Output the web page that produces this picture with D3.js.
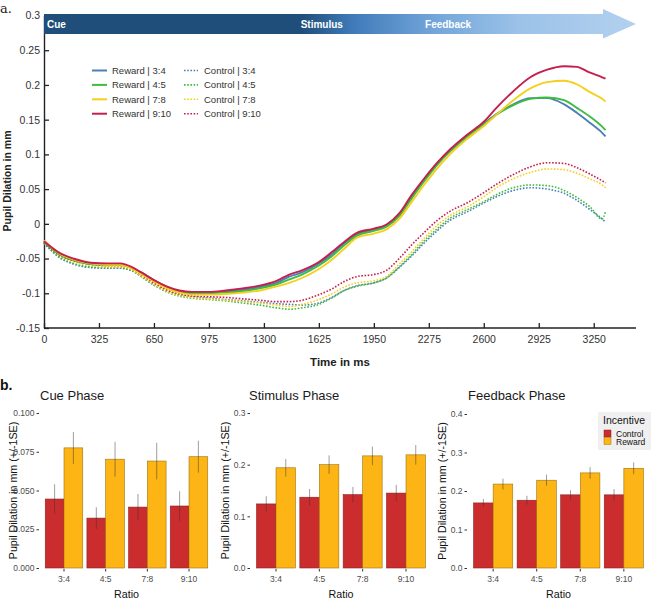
<!DOCTYPE html>
<html><head><meta charset="utf-8">
<script src="https://cdn.jsdelivr.net/npm/d3@7/dist/d3.min.js"></script>
<style>body{margin:0;background:#fff;} svg{display:block;font-family:"Liberation Sans",Arial,sans-serif;}</style>
</head><body>
<svg id="c" width="651" height="600"></svg>
<script>
// ---------- Panel a data ----------
const times = [0,100,175,275,375,450,525,575,650,725,800,875,975,1075,1175,1275,1375,1450,1525,1625,1700,1775,1850,1950,2025,2100,2175,2250,2325,2400,2500,2600,2675,2775,2875,2975,3075,3150,3225,3300,3320];
const reward34 = [-0.026,-0.045,-0.052,-0.058,-0.059,-0.059,-0.064,-0.070,-0.081,-0.091,-0.097,-0.099,-0.099,-0.098,-0.095,-0.091,-0.085,-0.076,-0.070,-0.057,-0.044,-0.028,-0.015,-0.008,-0.002,0.013,0.039,0.064,0.087,0.105,0.126,0.144,0.158,0.172,0.181,0.181,0.172,0.160,0.146,0.131,0.126];
const reward45 = [-0.025,-0.045,-0.052,-0.058,-0.059,-0.059,-0.064,-0.071,-0.082,-0.092,-0.098,-0.100,-0.100,-0.099,-0.097,-0.093,-0.087,-0.080,-0.073,-0.060,-0.047,-0.031,-0.017,-0.010,-0.004,0.011,0.037,0.062,0.085,0.104,0.125,0.143,0.157,0.171,0.180,0.182,0.178,0.167,0.155,0.140,0.135];
const reward78 = [-0.024,-0.044,-0.051,-0.057,-0.059,-0.059,-0.065,-0.072,-0.083,-0.093,-0.099,-0.102,-0.102,-0.101,-0.099,-0.096,-0.090,-0.085,-0.078,-0.065,-0.052,-0.036,-0.020,-0.014,-0.008,0.007,0.032,0.057,0.080,0.100,0.122,0.141,0.157,0.178,0.195,0.204,0.206,0.201,0.190,0.180,0.176];
const reward910 = [-0.025,-0.043,-0.050,-0.056,-0.057,-0.057,-0.063,-0.070,-0.081,-0.090,-0.096,-0.098,-0.098,-0.096,-0.093,-0.089,-0.082,-0.073,-0.067,-0.055,-0.041,-0.026,-0.013,-0.007,-0.001,0.015,0.042,0.066,0.088,0.107,0.128,0.147,0.167,0.191,0.211,0.222,0.227,0.226,0.218,0.211,0.209];
const control34 = [-0.028,-0.050,-0.058,-0.063,-0.064,-0.064,-0.068,-0.076,-0.088,-0.097,-0.103,-0.105,-0.107,-0.109,-0.111,-0.113,-0.115,-0.116,-0.117,-0.114,-0.106,-0.096,-0.089,-0.085,-0.078,-0.063,-0.046,-0.027,-0.010,0.005,0.017,0.030,0.039,0.048,0.052,0.050,0.044,0.034,0.021,0.007,0.002];
const control45 = [-0.028,-0.049,-0.057,-0.062,-0.063,-0.063,-0.068,-0.076,-0.088,-0.098,-0.104,-0.107,-0.109,-0.111,-0.114,-0.117,-0.121,-0.123,-0.121,-0.116,-0.107,-0.096,-0.090,-0.085,-0.078,-0.062,-0.044,-0.024,-0.007,0.008,0.020,0.032,0.042,0.052,0.056,0.055,0.048,0.038,0.025,0.007,0.018];
const control78 = [-0.026,-0.047,-0.055,-0.060,-0.062,-0.062,-0.067,-0.075,-0.087,-0.097,-0.103,-0.106,-0.108,-0.110,-0.112,-0.114,-0.117,-0.119,-0.116,-0.109,-0.101,-0.091,-0.085,-0.082,-0.076,-0.058,-0.040,-0.020,-0.002,0.012,0.024,0.039,0.052,0.065,0.074,0.079,0.078,0.073,0.065,0.056,0.052];
const control910 = [-0.027,-0.046,-0.053,-0.058,-0.060,-0.060,-0.065,-0.073,-0.085,-0.095,-0.101,-0.104,-0.105,-0.106,-0.108,-0.110,-0.112,-0.112,-0.110,-0.102,-0.094,-0.083,-0.076,-0.073,-0.067,-0.050,-0.030,-0.012,0.005,0.018,0.030,0.045,0.057,0.071,0.082,0.088,0.087,0.081,0.072,0.062,0.059];
const xTicks = [0,325,650,975,1300,1625,1950,2275,2600,2925,3250];
const yTicks = [-0.15,-0.1,-0.05,0,0.05,0.1,0.15,0.2,0.25,0.3];
const yTickLabels = ["-0.15","-0.1","-0.05","0","0.05","0.1","0.15","0.2","0.25","0.3"];
const phaseLabels = ["Cue","Stimulus","Feedback"];
const phaseStarts = [0,1500,2235];

// ---------- Panel b data ----------
const ratios = ["3:4","4:5","7:8","9:10"];
const cueControl = [0.0445,0.0322,0.0393,0.0400];
const cueControlSE = [0.0095,0.0070,0.0085,0.0095];
const cueReward = [0.0775,0.0702,0.0690,0.0718];
const cueRewardSE = [0.0103,0.0112,0.0118,0.0103];
const stimControl = [0.124,0.137,0.142,0.145];
const stimControlSE = [0.015,0.016,0.015,0.016];
const stimReward = [0.194,0.200,0.217,0.219];
const stimRewardSE = [0.017,0.018,0.018,0.019];
const fbControl = [0.169,0.176,0.190,0.190];
const fbControlSE = [0.0105,0.0115,0.0120,0.0150];
const fbReward = [0.218,0.228,0.247,0.259];
const fbRewardSE = [0.0140,0.0145,0.0150,0.0155];
const cueTicks = [0,0.025,0.05,0.075,0.1];
const cueTickLabels = ["0.000","0.025","0.050","0.075","0.100"];
const stimTicks = [0,0.1,0.2,0.3];
const stimTickLabels = ["0.0","0.1","0.2","0.3"];
const fbTicks = [0,0.1,0.2,0.3,0.4];
const fbTickLabels = ["0.0","0.1","0.2","0.3","0.4"];
const incentives = ["Control","Reward"];

const svg = d3.select("#c");

// ================= Panel a =================
const x = d3.scaleLinear().domain([0,3500]).range([44,636]);
const y = d3.scaleLinear().domain([-0.15,0.3]).range([328,15.5]);

svg.append("text").attr("x",0).attr("y",13).attr("font-family","DejaVu Serif, serif").attr("font-size",13).attr("fill","#222").text("a.");

// axes
const gx = svg.append("g").attr("transform","translate(0,328)")
  .call(d3.axisBottom(x).tickValues(xTicks).tickSizeInner(-5).tickSizeOuter(0).tickPadding(8).tickFormat(d3.format("d")));
gx.select(".domain").attr("stroke","#222").attr("stroke-width",1.4).attr("d","M44,0H636");
gx.selectAll(".tick line").attr("stroke","#222").attr("stroke-width",1.3);
gx.selectAll(".tick text").attr("font-size",10.5).attr("fill","#333").attr("font-family","Liberation Sans, Arial, sans-serif");

const gy = svg.append("g").attr("transform","translate(44,0)")
  .call(d3.axisLeft(y).tickValues(yTicks).tickSizeInner(-5).tickSizeOuter(0).tickPadding(4).tickFormat((d,i)=>yTickLabels[i]));
gy.select(".domain").attr("stroke","#222").attr("stroke-width",1.4);
gy.selectAll(".tick line").attr("stroke","#222").attr("stroke-width",1.3);
gy.selectAll(".tick text").attr("font-size",10.5).attr("fill","#333").attr("font-family","Liberation Sans, Arial, sans-serif");

svg.append("text").attr("x",340).attr("y",366).attr("text-anchor","middle").attr("font-weight","bold").attr("font-size",11.5).attr("fill","#222").text("Time in ms");
svg.append("text").attr("transform","translate(11,181) rotate(-90)").attr("text-anchor","middle").attr("font-weight","bold").attr("font-size",10.5).attr("fill","#222").text("Pupil Dilation in mm");

// lines
const line = d3.line().x((d,i)=>x(times[i])).y(d=>y(d)).curve(d3.curveMonotoneX);
const seriesColors = {"3:4":"#4a80b6","4:5":"#3dbd3d","7:8":"#f5cf1e","9:10":"#c51f4d"};
const controls = [["3:4",control34],["4:5",control45],["7:8",control78],["9:10",control910]];
const rewards = [["3:4",reward34],["4:5",reward45],["7:8",reward78],["9:10",reward910]];
svg.append("g").selectAll("path").data(controls).join("path")
  .attr("d",d=>line(d[1])).attr("fill","none").attr("stroke",d=>seriesColors[d[0]])
  .attr("stroke-width",1.6).attr("stroke-dasharray","1.6,1.6");
svg.append("g").selectAll("path").data(rewards).join("path")
  .attr("d",d=>line(d[1])).attr("fill","none").attr("stroke",d=>seriesColors[d[0]])
  .attr("stroke-width",1.9);

// legend
const lg = svg.append("g");
rewards.forEach((r,i)=>{
  const yy = 70.5 + i*14.4;
  lg.append("line").attr("x1",92).attr("x2",107).attr("y1",yy).attr("y2",yy).attr("stroke",seriesColors[r[0]]).attr("stroke-width",2);
  lg.append("text").attr("x",112).attr("y",yy+3.5).attr("font-size",9.5).attr("fill","#333").text("Reward | "+r[0]);
  lg.append("line").attr("x1",184).attr("x2",198).attr("y1",yy).attr("y2",yy).attr("stroke",seriesColors[r[0]]).attr("stroke-width",1.6).attr("stroke-dasharray","1.6,1.6");
  lg.append("text").attr("x",204).attr("y",yy+3.5).attr("font-size",9.5).attr("fill","#333").text("Control | "+r[0]);
});

// phase arrow
const defs = svg.append("defs");
const grad = defs.append("linearGradient").attr("id","ag").attr("gradientUnits","userSpaceOnUse").attr("x1",44).attr("x2",636).attr("y1",0).attr("y2",0);
[[0,"#1f4e7a"],[0.435,"#1f4e7a"],[0.52,"#3f7ab8"],[0.65,"#6fa3d8"],[0.8,"#9bc2e8"],[1,"#b3d1ef"]].forEach(s=>grad.append("stop").attr("offset",s[0]).attr("stop-color",s[1]));
const aTop = 14, aBot = 34, hTop = 9, hBot = 38.5, hx = 603, tip = 636;
svg.append("path").attr("d",`M44,${aTop}H${hx}V${hTop}L${tip},${(aTop+aBot)/2}L${hx},${hBot}V${aBot}H44Z`).attr("fill","url(#ag)");
phaseLabels.forEach((p,i)=>{
  svg.append("text").attr("x",x(phaseStarts[i])+3).attr("y",28).attr("font-size",10).attr("font-weight","bold").attr("fill","#fff").text(p);
});

// ================= Panel b =================
svg.append("text").attr("x",0).attr("y",390).attr("font-weight","bold").attr("font-size",14).attr("fill","#111").text("b.");

const barColors = {"Control":"#cb2d2f","Reward":"#fdb515"};
const panels = [
  {title:"Cue Phase", range:[39,214], domain:[0,0.1], top:413, ticks:cueTicks, labels:cueTickLabels, ctrl:cueControl, ctrlSE:cueControlSE, rew:cueReward, rewSE:cueRewardSE, titleX:40, ytitleX:13},
  {title:"Stimulus Phase", range:[250,432], domain:[0,0.3], top:413, ticks:stimTicks, labels:stimTickLabels, ctrl:stimControl, ctrlSE:stimControlSE, rew:stimReward, rewSE:stimRewardSE, titleX:249, ytitleX:225},
  {title:"Feedback Phase", range:[467,650], domain:[0,0.4], top:414, ticks:fbTicks, labels:fbTickLabels, ctrl:fbControl, ctrlSE:fbControlSE, rew:fbReward, rewSE:fbRewardSE, titleX:468, ytitleX:442}
];
panels.forEach(p=>{
  const g = svg.append("g");
  const xb = d3.scaleBand().domain(ratios).range(p.range).paddingInner(0.1).paddingOuter(0.15);
  const xs = d3.scaleBand().domain(incentives).range([0,xb.bandwidth()]);
  const yb = d3.scaleLinear().domain(p.domain).range([568,p.top]);
  g.append("text").attr("x",p.titleX).attr("y",400).attr("font-size",13).attr("fill","#1a1a1a").text(p.title);
  const ya = g.append("g").attr("transform",`translate(${p.range[0]},0)`)
    .call(d3.axisLeft(yb).tickValues(p.ticks).tickSize(2.5).tickPadding(2).tickFormat((d,i)=>p.labels[i]));
  ya.select(".domain").remove();
  ya.selectAll(".tick line").attr("stroke","#333");
  ya.selectAll(".tick text").attr("font-size",8.5).attr("fill","#4d4d4d").attr("font-family","Liberation Sans, Arial, sans-serif");
  const xa = g.append("g").attr("transform","translate(0,569)")
    .call(d3.axisBottom(xb).tickSize(2.5).tickPadding(4));
  xa.select(".domain").remove();
  xa.selectAll(".tick line").attr("stroke","#333");
  xa.selectAll(".tick text").attr("font-size",8.5).attr("fill","#4d4d4d").attr("font-family","Liberation Sans, Arial, sans-serif");
  g.append("text").attr("x",(p.range[0]+p.range[1])/2).attr("y",598).attr("text-anchor","middle").attr("font-size",10.7).attr("fill","#111").text("Ratio");
  g.append("text").attr("transform",`translate(${p.ytitleX},${(568+p.top)/2}) rotate(-90)`).attr("text-anchor","middle").attr("dy","0.35em").attr("font-size",10.7).attr("fill","#111").text("Pupil Dilation in mm (+/-1SE)");
  const rows = [];
  ratios.forEach((r,i)=>{
    rows.push({r,inc:"Control",v:p.ctrl[i],se:p.ctrlSE[i]});
    rows.push({r,inc:"Reward",v:p.rew[i],se:p.rewSE[i]});
  });
  g.selectAll("rect.bar").data(rows).join("rect").attr("class","bar")
    .attr("x",d=>xb(d.r)+xs(d.inc)).attr("width",xs.bandwidth())
    .attr("y",d=>yb(d.v)).attr("height",d=>yb(0)-yb(d.v))
    .attr("fill",d=>barColors[d.inc]).attr("stroke",d=>d.inc==="Reward"?"#9a7412":"#8a2020").attr("stroke-width",0.6);
  g.selectAll("line.err").data(rows).join("line").attr("class","err")
    .attr("x1",d=>xb(d.r)+xs(d.inc)+xs.bandwidth()/2).attr("x2",d=>xb(d.r)+xs(d.inc)+xs.bandwidth()/2)
    .attr("y1",d=>yb(d.v+d.se)).attr("y2",d=>yb(d.v-d.se))
    .attr("stroke","#333").attr("stroke-opacity",0.6).attr("stroke-width",0.8);
});

// incentive legend
const il = svg.append("g");
il.append("rect").attr("x",598).attr("y",412).attr("width",53).attr("height",38).attr("fill","#f0f0f0");
il.append("text").attr("x",603).attr("y",424).attr("font-size",10.5).attr("fill","#111").text("Incentive");
incentives.forEach((inc,i)=>{
  il.append("rect").attr("x",604).attr("y",430+i*7.5).attr("width",7).attr("height",7).attr("fill",barColors[inc]).attr("stroke",inc==="Reward"?"#9a7412":"#8a2020").attr("stroke-width",0.5);
  il.append("text").attr("x",616).attr("y",436.5+i*8.5).attr("font-size",8.5).attr("fill","#111").text(inc);
});
</script>
</body></html>
